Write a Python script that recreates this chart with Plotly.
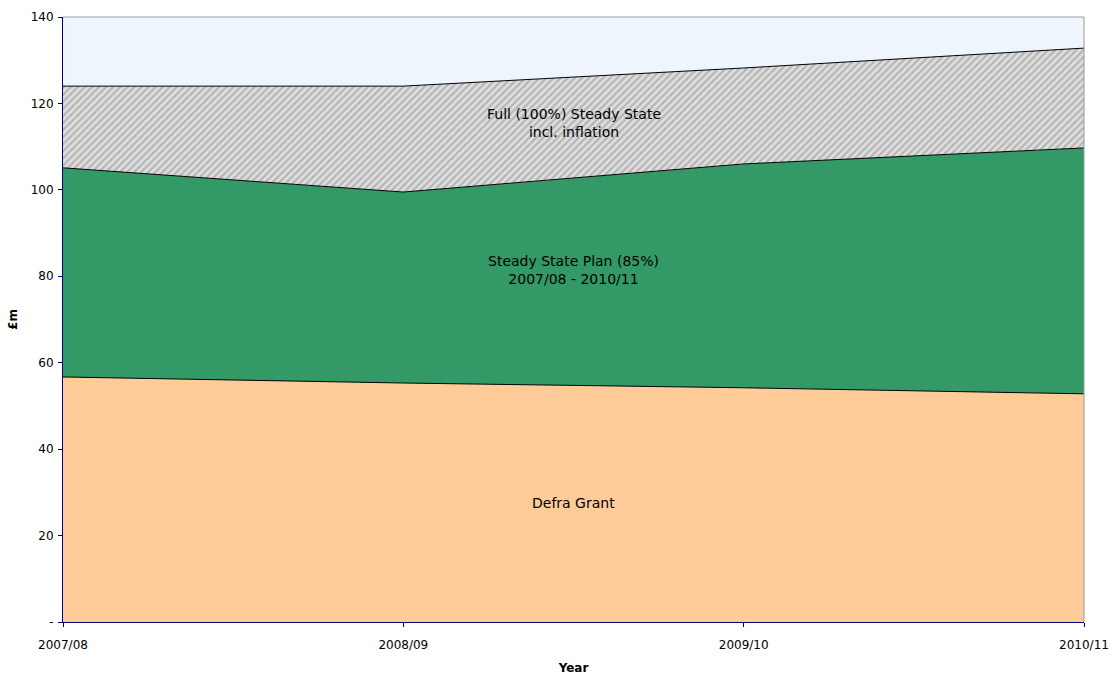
import plotly.graph_objects as go

years = ["2007/08", "2008/09", "2009/10", "2010/11"]
defra_grant = [56.7, 55.3, 54.2, 52.8]
steady_state_plan_total = [105.1, 99.5, 106.0, 109.7]
full_steady_state_total = [124.0, 124.0, 128.2, 132.8]
y_ticks = [0, 20, 40, 60, 80, 100, 120, 140]
y_tick_labels = ["-", "20", "40", "60", "80", "100", "120", "140"]

x = list(range(len(years)))
font_family = "DejaVu Sans, Verdana, sans-serif"

fig = go.Figure()
fig.add_trace(go.Scatter(x=x, y=defra_grant, mode="lines", fill="tozeroy",
                         fillcolor="#FFCC99", line=dict(color="black", width=1),
                         name="Defra Grant", hoverinfo="skip"))
fig.add_trace(go.Scatter(x=x, y=steady_state_plan_total, mode="lines", fill="tonexty",
                         fillcolor="#339966", line=dict(color="black", width=1),
                         name="Steady State Plan", hoverinfo="skip"))
fig.add_trace(go.Scatter(x=x, y=full_steady_state_total, mode="lines", fill="tonexty",
                         fillcolor="#D9D9D9",
                         fillpattern=dict(shape="/", fgcolor="#8C8C8C", bgcolor="#DEDEDE",
                                          size=5, solidity=0.45),
                         line=dict(color="black", width=1),
                         name="Full Steady State", hoverinfo="skip"))

fig.add_annotation(x=1.5, y=115.5, text="Full (100%) Steady State<br>incl. inflation",
                   showarrow=False, font=dict(size=14, color="black", family=font_family))
fig.add_annotation(x=1.5, y=81.5, text="Steady State Plan (85%)<br>2007/08 - 2010/11",
                   showarrow=False, font=dict(size=14, color="black", family=font_family))
fig.add_annotation(x=1.5, y=27.5, text="Defra Grant",
                   showarrow=False, font=dict(size=14, color="black", family=font_family))

fig.update_layout(
    width=1115, height=675,
    margin=dict(l=63, r=31, t=17, b=53, autoexpand=False),
    paper_bgcolor="white", plot_bgcolor="#EEF5FD",
    showlegend=False,
    font=dict(family=font_family, size=12, color="black"),
    xaxis=dict(range=[0, 3], tickvals=x, ticktext=years, showgrid=False, zeroline=False,
               showline=True, linecolor="#000080", linewidth=1, ticks="outside",
               tickcolor="#000080", ticklen=4, ticklabelstandoff=8, automargin=False,
               title=dict(text="<b>Year</b>", font=dict(size=12), standoff=12),
               mirror=False),
    yaxis=dict(range=[0, 140], tickvals=y_ticks, ticktext=y_tick_labels, showgrid=False,
               zeroline=False, showline=True, linecolor="#000080", linewidth=1,
               ticks="outside", tickcolor="#000080", ticklen=4, ticklabelstandoff=2,
               automargin=False,
               title=dict(text="<b>£m</b>", font=dict(size=12), standoff=10)),
)
# plot area top/right border
fig.add_shape(type="line", xref="paper", yref="paper", x0=0, x1=1, y0=1, y1=1,
              line=dict(color="#999999", width=1))
fig.add_shape(type="line", xref="paper", yref="paper", x0=1, x1=1, y0=0, y1=1,
              line=dict(color="#999999", width=1))

fig.write_html("out.html")
